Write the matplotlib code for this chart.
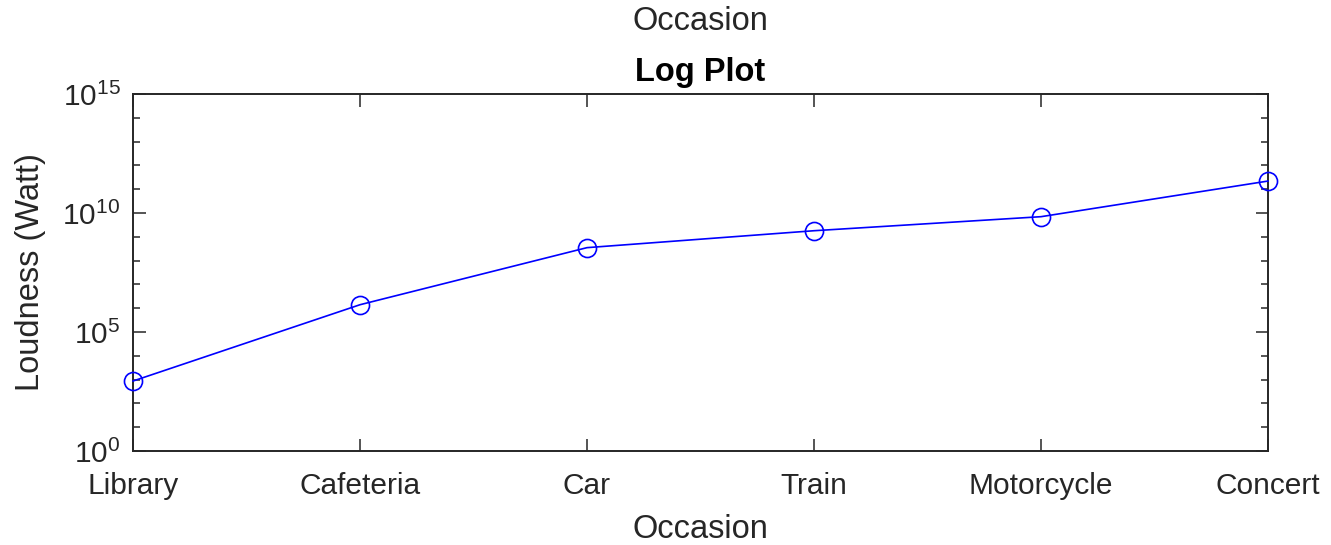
"""
Log Plot - loudness by occasion (semilog y)
"""
import numpy as np
import matplotlib
matplotlib.use('Agg')
import matplotlib.pyplot as plt
from matplotlib.ticker import FixedLocator, NullFormatter

plt.rcParams['font.family'] = ['Liberation Sans', 'DejaVu Sans']
plt.rcParams['mathtext.fontset'] = 'custom'
plt.rcParams['mathtext.rm'] = 'Liberation Sans'
plt.rcParams['mathtext.default'] = 'regular'

# 데이터
occasions = ['Library', 'Cafeteria', 'Car', 'Train', 'Motorcycle', 'Concert']
loudness = [8.7e2, 1.4e6, 3.5e8, 1.8e9, 7.0e9, 2.2e11]
y_major = [1e0, 1e5, 1e10, 1e15]
y_major_labels = [r'$10^{0}$', r'$10^{5}$', r'$10^{10}$', r'$10^{15}$']

AX_COLOR = '#262626'

fig = plt.figure(figsize=(13.31, 5.45), dpi=100)
ax = fig.add_axes([133 / 1331, 94 / 545, 1135 / 1331, 357 / 545])

x = np.arange(len(occasions))
ax.plot(x, loudness, color='#0000ff', linewidth=1.2, marker='o', markersize=13,
        markerfacecolor='none', markeredgewidth=1.2, clip_on=False, zorder=5)

ax.set_yscale('log')
ax.set_ylim(1e0, 1e15)
ax.set_xlim(0, len(occasions) - 1)

ax.set_xticks(x)
ax.set_xticklabels(occasions)
ax.set_yticks(y_major)
ax.set_yticklabels(y_major_labels)
minor = [10.0 ** k for k in range(0, 16) if k % 5 != 0]
ax.yaxis.set_minor_locator(FixedLocator(minor))
ax.yaxis.set_minor_formatter(NullFormatter())
ax.xaxis.set_minor_locator(FixedLocator([]))

ax.tick_params(axis='both', which='major', direction='in', length=9, width=1.1,
               colors=AX_COLOR, labelsize=21.5, top=True, right=True)
ax.tick_params(axis='y', which='minor', direction='in', length=5, width=1.1,
               colors=AX_COLOR, right=True, left=True)
ax.tick_params(axis='x', which='major', pad=15)
ax.tick_params(axis='y', which='major', pad=9)
for lbl in ax.get_xticklabels() + ax.get_yticklabels():
    lbl.set_color(AX_COLOR)

for sp in ax.spines.values():
    sp.set_color(AX_COLOR)
    sp.set_linewidth(1.4)

# 라벨, 제목
cx = 0.5 * (133 + 1268) / 1331
fig.text(cx, 1 - 529 / 545, 'Occasion', ha='center', va='center',
         fontsize=23.5, color=AX_COLOR)
fig.text(cx, 1 - 22 / 545, 'Occasion', ha='center', va='center',
         fontsize=23.5, color=AX_COLOR)
fig.text(cx, 1 - 72 / 545, 'Log Plot', ha='center', va='center',
         fontsize=23.5, fontweight='bold', color='black')
fig.text(31 / 1331, 1 - 272 / 545, 'Loudness (Watt)', ha='center', va='center',
         rotation=90, fontsize=23.5, color=AX_COLOR)

fig.savefig('out.png', dpi=100)
plt.close(fig)
